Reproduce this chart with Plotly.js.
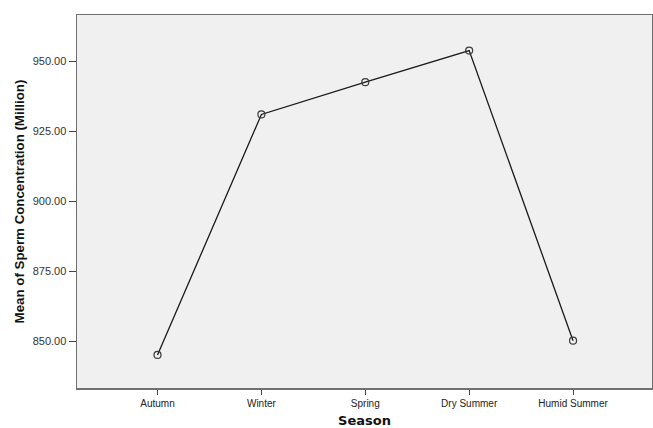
<!DOCTYPE html>
<html>
<head>
<meta charset="utf-8">
<script src="https://cdn.plot.ly/plotly-3.0.1.min.js"></script>
<style>html,body{margin:0;padding:0;background:#fff;}#chart{width:653px;height:428px;}</style>
</head>
<body>
<div id="chart"></div>
<script>
const seasons = ["Autumn", "Winter", "Spring", "Dry Summer", "Humid Summer"];
const meanConcentration = [845.2, 931.1, 942.6, 953.9, 850.3];
const yTickValues = [850, 875, 900, 925, 950];
const yTickLabels = ["850.00", "875.00", "900.00", "925.00", "950.00"];

const trace = {
  x: seasons.map((s, i) => i),
  y: meanConcentration,
  type: "scatter",
  mode: "lines+markers",
  line: {color: "#1a1a1a", width: 1.3},
  marker: {symbol: "circle-open", size: 7, color: "#3a3a3a", line: {width: 1.2, color: "#3a3a3a"}},
  hoverinfo: "skip"
};

const layout = {
  width: 653, height: 428,
  margin: {l: 77, r: 1, t: 15, b: 40},
  paper_bgcolor: "#ffffff",
  plot_bgcolor: "#f0f0f0",
  showlegend: false,
  font: {family: "Arial, Liberation Sans, sans-serif", color: "#333"},
  xaxis: {
    range: [-0.775, 4.76],
    tickmode: "array",
    tickvals: seasons.map((s, i) => i),
    ticktext: seasons,
    ticks: "outside", ticklen: 5, tickwidth: 1, tickcolor: "#444",
    tickfont: {size: 10, color: "#222"},
    showgrid: false, zeroline: false,
    showline: true, mirror: true, linecolor: "#707070", linewidth: 1.5,
    title: {text: "Season", font: {family: "DejaVu Sans, sans-serif", size: 13, color: "#111", weight: "bold"}, standoff: 8}
  },
  yaxis: {
    range: [833.4, 966.6],
    tickmode: "array",
    tickvals: yTickValues,
    ticktext: yTickLabels,
    ticks: "outside", ticklen: 7, tickwidth: 1, tickcolor: "#444",
    tickfont: {size: 11, color: "#333"},
    showgrid: false, zeroline: false,
    showline: true, mirror: true, linecolor: "#707070", linewidth: 1.5,
    title: {text: "Mean of Sperm Concentration (Million)", font: {family: "Arial, Liberation Sans, sans-serif", size: 13.3, color: "#111", weight: "bold"}, standoff: 5}
  }
};

Plotly.newPlot("chart", [trace], layout, {displayModeBar: false, staticPlot: true});
</script>
</body>
</html>
